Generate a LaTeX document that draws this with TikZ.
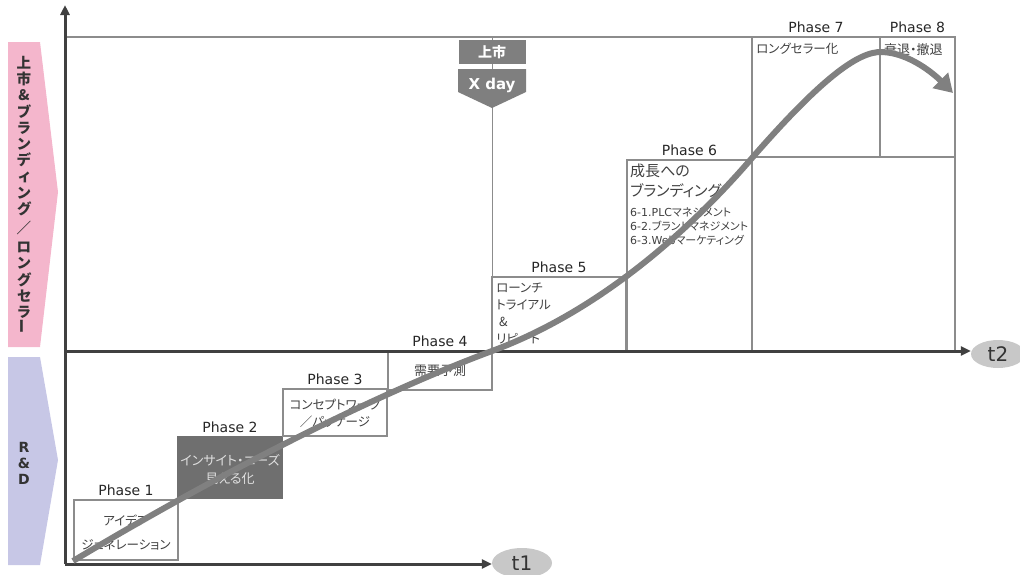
\documentclass[tikz,border=0pt]{standalone}
\usepackage{fontspec}
\setmainfont{Noto Sans CJK JP}[RawFeature=+palt]
\newfontfamily\dv{DejaVu Sans}
\usetikzlibrary{arrows.meta,shapes.geometric}
\definecolor{pinkc}{HTML}{F4B6CC}
\definecolor{purc}{HTML}{C7C7E6}
\definecolor{bartxt}{HTML}{333333}
\definecolor{axisc}{HTML}{404040}
\definecolor{boxc}{HTML}{8C8C8C}
\definecolor{darkbox}{HTML}{6F6F6F}
\definecolor{markc}{HTML}{7F7F7F}
\definecolor{curvec}{HTML}{808080}
\definecolor{ellc}{HTML}{C8C8C8}
\definecolor{txtc}{HTML}{404040}
\definecolor{labc}{HTML}{262626}
\tikzset{
  axisline/.style={draw=axisc, line width=3pt, -{Triangle[length=10pt,width=9pt]}},
  frameline/.style={draw=boxc, line width=1.5pt},
  thinl/.style={draw=boxc, line width=1pt},
  pbox/.style={draw=boxc, line width=2pt, inner sep=0pt, outer sep=0pt, anchor=north west},
  plabel/.style={font=\dv\fontsize{14}{16}\selectfont, text=labc, anchor=base, inner sep=0pt},
  btext/.style={text=txtc, align=center, inner sep=0pt},
  ltext/.style={text=txtc, align=left, inner sep=0pt, anchor=north west},
  tell/.style={ellipse, fill=ellc, inner sep=0pt, text=bartxt, font=\dv\fontsize{20}{22}\selectfont},
  markbox/.style={fill=markc, text=white, inner sep=0pt, font=\bfseries\fontsize{14}{16}\selectfont},
  bartext/.style={text=bartxt, align=center, inner sep=0pt, font=\bfseries\fontsize{14.5}{16.2}\selectfont},
  curveline/.style={draw=curvec, line width=6pt, -{Triangle[length=18pt,width=21pt]}},
}
\begin{document}
\begin{tikzpicture}[x=1pt,y=-1pt]
\useasboundingbox (0,0) rectangle (1020,574);
% left bars
\fill[pinkc] (8,42) -- (40,42) -- (58,192) -- (40,347) -- (8,347) -- cycle;
\fill[purc] (8,357) -- (40,357) -- (58,460) -- (40,565) -- (8,565) -- cycle;
\node[bartext] (bar1) at (24,195) {上\\市\\\&\\ブ\\ラ\\ン\\デ\\ィ\\ン\\グ\\[3pt]／\\[3pt]ロ\\ン\\グ\\セ\\ラ\\\rotatebox{90}{ー}};
\node[bartext, font=\dv\bfseries\fontsize{14}{16}\selectfont] (bar2) at (24,463) {R\\\&\\D};
% frame
\coordinate (ftl) at (65,37);
\coordinate (ftr) at (955,37);
\coordinate (fbr) at (955,351);
\draw[frameline] (ftl) -- (ftr) -- (fbr);
% boxes
\node[pbox, minimum width=104pt, minimum height=60pt] (p1) at (74,500) {};
\node[pbox, fill=darkbox, draw=darkbox, minimum width=104pt, minimum height=61pt] (p2) at (178,437) {};
\node[pbox, minimum width=104pt, minimum height=47pt] (p3) at (283,389) {};
\node[pbox, minimum width=104pt, minimum height=39pt] (p4) at (388,351) {};
\node[pbox, minimum width=134pt, minimum height=74pt] (p5) at (492,277) {};
\node[pbox, minimum width=125pt, minimum height=191pt] (p6) at (627,160) {};
\node[pbox, minimum width=128pt, minimum height=120pt] (p7) at (752,37) {};
\node[pbox, minimum width=75pt, minimum height=120pt] (p8) at (880,37) {};
% phase labels
\node[plabel] (l1) at ([yshift=4.5pt]p1.north) {Phase 1};
\node[plabel] (l2) at ([yshift=4.5pt]p2.north) {Phase 2};
\node[plabel] (l3) at ([yshift=4.5pt]p3.north) {Phase 3};
\node[plabel] (l4) at ([yshift=4.5pt]p4.north) {Phase 4};
\node[plabel] (l5) at ([yshift=4.5pt]p5.north) {Phase 5};
\node[plabel] (l6) at ([yshift=4.5pt]p6.north) {Phase 6};
\node[plabel] (l7) at ([yshift=4.5pt]p7.north) {Phase 7};
\node[plabel] (l8) at ([yshift=4.5pt]p8.north) {Phase 8};
% x-day line and markers
\coordinate (xtop) at (492,37);
\draw[thinl] (xtop) -- (p5.north west);
\node[markbox, minimum width=67pt, minimum height=24pt] (ls) at (492,52) {上市};
\fill[markc] (458,69) -- (526,69) -- (526,92) -- (492,108) -- (458,92) -- cycle;
\node[text=white, inner sep=0pt, font=\dv\bfseries\fontsize{15}{17}\selectfont] (xd) at (492,85) {X day};
% axes
\coordinate (o) at (65,564);
\coordinate (ytop) at (65,5);
\coordinate (mid) at (65,351);
\node[tell, minimum width=60pt, minimum height=30pt] (t1) at (522,563) {t1};
\node[tell, minimum width=54pt, minimum height=28pt] (t2) at (998,354) {t2};
\draw[axisline] (o) -- (ytop);
\draw[axisline] (o) -- (t1.west |- o);
\draw[axisline] (mid) -- (t2.west |- mid);
% box texts
\node[btext, font=\fontsize{12.5}{24}\selectfont] (x1) at (126,533) {アイデア\\ジェネレーション};
\node[btext, text=white!88!black, font=\fontsize{13}{18}\selectfont] (x2) at (230,469) {インサイト・ニーズ\\見える化};
\node[btext, font=\fontsize{12.5}{17}\selectfont] (x3) at (335,413) {コンセプトワーク\\／パッケージ};
\node[btext, font=\fontsize{13}{16}\selectfont] (x4) at (440,371) {需要予測};
\node[ltext, font=\fontsize{12.5}{17}\selectfont] (x5) at (496,283) {ローンチ\\トライアル\\\hspace{3pt}\&\\リピート};
\node[ltext, font=\fontsize{15}{20}\selectfont] (x6a) at (630,164) {成長への\\ブランディング};
\node[ltext, font=\fontsize{11}{14}\selectfont] (x6b) at (630,207) {{\dv 6-1.PLC}マネジメント\\{\dv 6-2.}ブランドマネジメント\\{\dv 6-3.Web}マーケティング};
\node[ltext, font=\fontsize{12.5}{16}\selectfont] (x7) at (756,43) {ロングセラー化};
\node[ltext, font=\fontsize{13}{16}\selectfont] (x8) at (884,43) {衰退・撤退};
% curve
\draw[curveline] (73,561) .. controls (250,455) and (400,385) .. (492,351)
  .. controls (600,311) and (690,230) .. (752,158)
  .. controls (820,80) and (858,51) .. (882,52)
  .. controls (910,53) and (935,75) .. (953,93);
\end{tikzpicture}
\end{document}
